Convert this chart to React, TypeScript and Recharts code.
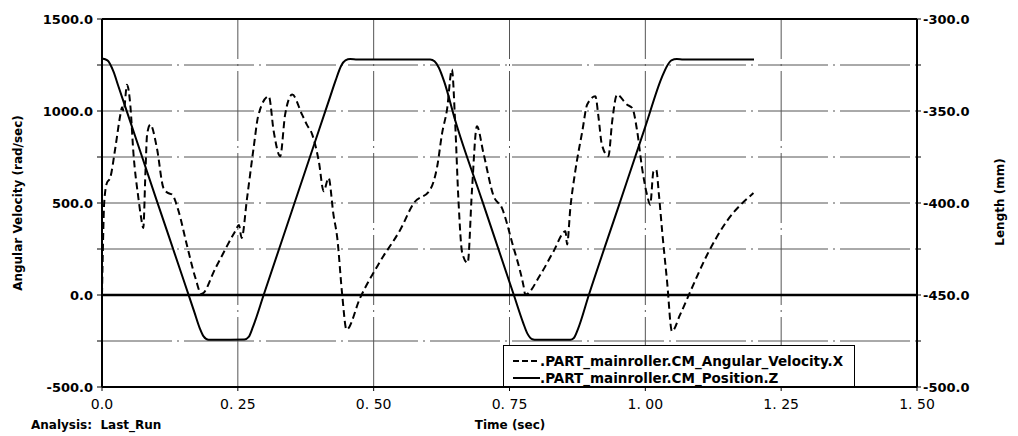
import React from 'react';
import { LineChart, Line, XAxis, YAxis, ReferenceLine } from 'recharts';

// time (sec) and angular velocity (rad/sec) of the roller
const velTime = [
  0, 0.002, 0.004, 0.009, 0.015, 0.0245, 0.034, 0.037, 0.04, 0.046, 0.052, 0.058, 0.067, 0.072, 0.076,
  0.08, 0.083, 0.089, 0.101, 0.113, 0.121, 0.129, 0.141, 0.156, 0.172, 0.183, 0.209, 0.245, 0.252,
  0.257, 0.267, 0.279, 0.288, 0.307, 0.316, 0.328, 0.337, 0.35, 0.368, 0.377, 0.387, 0.399, 0.408,
  0.417, 0.426, 0.433, 0.442, 0.45, 0.475, 0.512, 0.549, 0.574, 0.604, 0.617, 0.626, 0.635, 0.644,
  0.65, 0.656, 0.663, 0.673, 0.681, 0.69, 0.702, 0.721, 0.736, 0.755, 0.776, 0.779, 0.807, 0.831,
  0.853, 0.856, 0.862, 0.871, 0.884, 0.893, 0.908, 0.914, 0.92, 0.932, 0.939, 0.948, 0.966, 0.976,
  0.985, 0.994, 1.003, 1.009, 1.015, 1.02, 1.025, 1.031, 1.04, 1.049, 1.064, 1.083, 1.114, 1.15, 1.199,
];
const velValues = [
  0, 300, 500, 609, 636, 799, 982, 1020, 1000, 1143, 1036, 765, 527, 420, 364,
  672, 873, 926, 799, 582, 555, 546, 455, 274, 92, 5, 147, 346, 380,
  310, 527, 799, 980, 1080, 890, 754, 980, 1089, 982, 926, 872, 727, 564,
  636, 437, 310, 4, -188, -16, 183, 355, 500, 573, 700, 880, 1008, 1225,
  935, 518, 228, 174, 573, 917, 772, 536, 473, 283, 47, 2, 111, 237,
  346, 275, 473, 672, 890, 1035, 1080, 962, 817, 754, 944, 1089, 1035, 1016,
  890, 690, 546, 491, 672, 681, 546, 346, 74, -197, -107, 20, 220, 401, 554,
];

// time (sec) and CM position Z (mm)
const posTime = [
  0, 0.01, 0.021, 0.03, 0.05, 0.1, 0.15, 0.17, 0.18, 0.187, 0.196, 0.262, 0.27, 0.278, 0.2975,
  0.35, 0.4, 0.42, 0.43, 0.44, 0.448, 0.457, 0.47, 0.604, 0.612, 0.62, 0.63, 0.65, 0.7, 0.758,
  0.775, 0.783, 0.792, 0.8, 0.862, 0.868, 0.876, 0.896, 0.95, 1.0, 1.03, 1.04, 1.048, 1.058, 1.07, 1.2,
];
const posValues = [
  -321.5, -322.5, -328.5, -336.4, -354, -398, -441.7, -459.3, -468.1, -472.5, -474.3, -474.2, -472.8, -467.2, -450,
  -403.8, -359.8, -342.2, -333.4, -325.5, -322.5, -321.8, -322, -322, -323, -326.5, -334.2, -355, -399, -450,
  -465, -471, -474, -474.3, -474.3, -473.5, -468.5, -450, -402.5, -358.5, -332, -325.5, -322.5, -321.8, -322, -322,
];

const xTicks = [0, 0.25, 0.5, 0.75, 1.0, 1.25, 1.5];
const leftTicks = [-500, -250, 0, 250, 500, 750, 1000, 1250, 1500];
const rightTicks = [-500, -475, -450, -425, -400, -375, -350, -325, -300];
const hGrid = [-250, 250, 500, 750, 1000, 1250];
const vGrid = [0.25, 0.5, 0.75, 1.0, 1.25];

const velName = '.PART_mainroller.CM_Angular_Velocity.X';
const posName = '.PART_mainroller.CM_Position.Z';

const velData = velTime.map((t, i) => ({ t, v: velValues[i] }));
const posData = posTime.map((t, i) => ({ t, z: posValues[i] }));

const FONT = '"DejaVu Sans", sans-serif';
const tickStyle = { fontFamily: FONT, fontSize: 13, fontWeight: 700, fill: '#000' };
const GRID = '#555';
const GRID_DASH = '70 5 2 5';

export default function App() {
  return (
    <div style={{ position: 'absolute', left: 0, top: 0, width: 1018, height: 436, background: '#fff', fontFamily: FONT }}>
      <LineChart width={1018} height={436} margin={{ top: 19, right: 41, bottom: 19, left: 0 }}>
        <XAxis
          type="number"
          dataKey="t"
          domain={[0, 1.5]}
          ticks={xTicks}
          interval={0}
          height={30}
          tick={{ ...tickStyle, fontWeight: 400, fontSize: 14 }}
          tickSize={4}
          tickMargin={8}
          tickFormatter={(v: number) => (v === 0 ? '0.0' : v.toFixed(2).replace('.', '. '))}
          stroke="#000"
          axisLine={{ stroke: '#000', strokeWidth: 2 }}
          allowDataOverflow
        />
        <YAxis
          yAxisId="left"
          domain={[-500, 1500]}
          ticks={leftTicks}
          interval={0}
          width={102}
          tick={tickStyle}
          tickSize={5}
          tickMargin={4}
          tickFormatter={(v: number) => (v % 500 === 0 ? v.toFixed(1) : '')}
          stroke="#000"
          axisLine={{ stroke: '#000', strokeWidth: 2 }}
          allowDataOverflow
        />
        <YAxis
          yAxisId="right"
          orientation="right"
          domain={[-500, -300]}
          ticks={rightTicks}
          interval={0}
          width={60}
          tick={tickStyle}
          tickSize={4}
          tickMargin={2}
          tickFormatter={(v: number) => (v % 50 === 0 ? v.toFixed(1) : '')}
          stroke="#000"
          axisLine={{ stroke: '#000', strokeWidth: 2 }}
          allowDataOverflow
        />
        {hGrid.map((y) => (
          <ReferenceLine key={`h${y}`} yAxisId="left" y={y} stroke={GRID} strokeWidth={1} strokeDasharray={GRID_DASH} />
        ))}
        {vGrid.map((x) => (
          <ReferenceLine key={`v${x}`} yAxisId="left" x={x} stroke={GRID} strokeWidth={1} strokeDasharray={GRID_DASH} />
        ))}
        <ReferenceLine yAxisId="left" y={0} stroke="#000" strokeWidth={2.5} />
        <ReferenceLine yAxisId="left" y={1500} stroke="#000" strokeWidth={2} />
        <Line
          yAxisId="left"
          data={velData}
          dataKey="v"
          name={velName}
          type="monotone"
          stroke="#000"
          strokeWidth={2}
          strokeDasharray="7 4"
          dot={false}
          activeDot={false}
          isAnimationActive={false}
        />
        <Line
          yAxisId="right"
          data={posData}
          dataKey="z"
          name={posName}
          type="monotone"
          stroke="#000"
          strokeWidth={2}
          dot={false}
          activeDot={false}
          isAnimationActive={false}
        />
      </LineChart>

      <div
        style={{
          position: 'absolute', left: 18, top: 203, transform: 'translate(-50%, -50%) rotate(-90deg)',
          whiteSpace: 'nowrap', fontSize: 12, fontWeight: 700,
        }}
      >
        Angular Velocity (rad/sec)
      </div>
      <div
        style={{
          position: 'absolute', left: 1000, top: 202, transform: 'translate(-50%, -50%) rotate(-90deg)',
          whiteSpace: 'nowrap', fontSize: 12, fontWeight: 700,
        }}
      >
        Length (mm)
      </div>
      <div style={{ position: 'absolute', left: 510, top: 425, transform: 'translate(-50%, -50%)', whiteSpace: 'nowrap', fontSize: 12, fontWeight: 700 }}>
        Time (sec)
      </div>
      <div style={{ position: 'absolute', left: 31, top: 425, transform: 'translateY(-50%)', whiteSpace: 'pre', fontSize: 12, fontWeight: 700 }}>
        {'Analysis:  Last_Run'}
      </div>

      <div
        style={{
          position: 'absolute', left: 503, top: 345, width: 352, height: 42, boxSizing: 'border-box',
          border: '1.5px solid #000', background: '#fff', fontSize: 13.5, fontWeight: 700,
        }}
      >
        <div style={{ position: 'absolute', left: 9, top: 7, display: 'flex', alignItems: 'center', whiteSpace: 'nowrap' }}>
          <svg width={27} height={4}><line x1={0} y1={2} x2={27} y2={2} stroke="#000" strokeWidth={2} strokeDasharray="6 3" /></svg>
          <span>{velName}</span>
        </div>
        <div style={{ position: 'absolute', left: 9, top: 24, display: 'flex', alignItems: 'center', whiteSpace: 'nowrap' }}>
          <svg width={27} height={4}><line x1={0} y1={2} x2={27} y2={2} stroke="#000" strokeWidth={2} /></svg>
          <span>{posName}</span>
        </div>
      </div>
    </div>
  );
}
